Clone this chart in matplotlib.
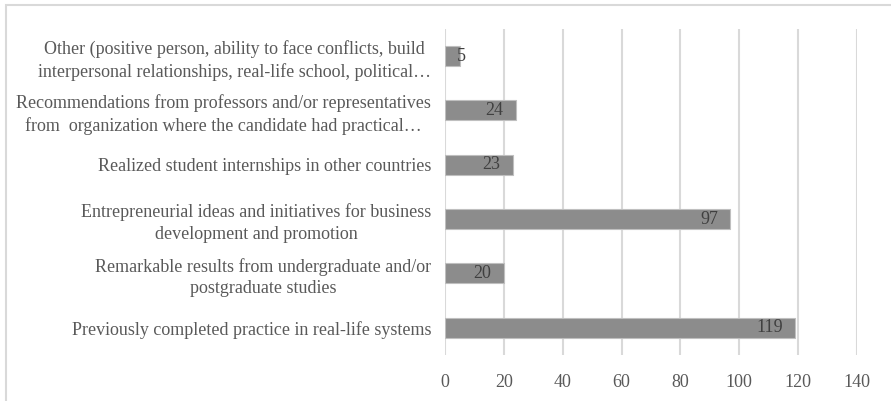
import matplotlib.pyplot as plt
from matplotlib.patches import Rectangle

plt.rcParams['font.family'] = ['Liberation Serif', 'DejaVu Serif']

# categories, bottom to top
categories = [
    'Previously completed practice in real-life systems',
    'Remarkable results from undergraduate and/or\npostgraduate studies',
    'Entrepreneurial ideas and initiatives for business\ndevelopment and promotion',
    'Realized student internships in other countries',
    'Recommendations from professors and/or representatives\nfrom  organization where the candidate had practical\u2026',
    'Other (positive person, ability to face conflicts, build\ninterpersonal relationships, real-life school, political\u2026',
]
values = [119, 20, 97, 23, 24, 5]
xticks = [0, 20, 40, 60, 80, 100, 120, 140]

fig = plt.figure(figsize=(8.91, 4.01), dpi=100)
ax = fig.add_axes([0.4994, 0.115, 0.4624, 0.813])

# outer chart border
fig.patches.append(Rectangle((6 / 891, -0.05), 1.1, 1 - 5 / 401 + 0.05,
                             transform=fig.transFigure, fill=False,
                             edgecolor='#d9d9d9', linewidth=1.5))

ypos = range(len(categories))
ax.barh(ypos, values, height=0.37, color='#8c8c8c', edgecolor='#bfbfbf',
        linewidth=0.8, zorder=3)

for y, v in zip(ypos, values):
    if v >= 10:
        ax.annotate(str(v), (v, y), xytext=(-9, 0), textcoords='offset points',
                    ha='right', va='center', fontsize=13, color='#404040', zorder=4)
    else:
        ax.annotate(str(v), (v, y), xytext=(1, 0), textcoords='offset points',
                    ha='center', va='center', fontsize=13, color='#404040', zorder=4)

ax.set_xlim(0, 140)
ax.set_ylim(-0.5, 5.5)
ax.set_xticks(xticks)
ax.set_yticks(list(ypos))
ax.set_yticklabels(categories, fontsize=13, color='#595959',
                   multialignment='center', linespacing=1.35)
ax.tick_params(axis='x', labelsize=13, labelcolor='#595959', length=0, pad=14)
ax.tick_params(axis='y', length=0, pad=10)
ax.xaxis.grid(True, color='#d9d9d9', linewidth=1.5, zorder=0)
for s in ax.spines.values():
    s.set_visible(False)

fig.savefig('out.png', dpi=100)
